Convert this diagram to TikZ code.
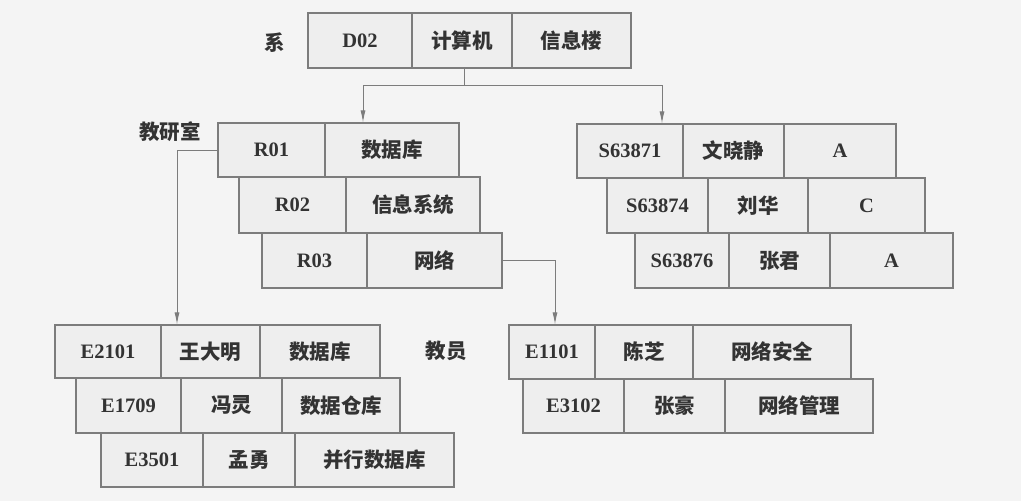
\documentclass[tikz,border=0pt]{standalone}
\usepackage{fontspec}
\setmainfont{Liberation Serif}
\newfontfamily\cjk{Noto Sans CJK SC}
\usetikzlibrary{arrows.meta}
\definecolor{bgc}{HTML}{F4F4F4}
\definecolor{cellc}{HTML}{EEEEEE}
\definecolor{linec}{HTML}{7C7C7C}
\definecolor{textc}{HTML}{333333}
\tikzset{
  cell/.style={draw=linec, fill=cellc, line width=1.1pt, inner sep=0pt, text=textc, font=\fontsize{20.5}{22}\selectfont\bfseries},
  lbl/.style={inner sep=0pt, text=textc, font=\fontsize{20.5}{22}\selectfont\cjk\bfseries},
  conn/.style={draw=linec, line width=0.9pt},
  arr/.style={conn, -{Latex[length=12pt,width=5pt]}}
}
\newcommand\cel[6]{\node[cell, minimum width={#3-#2}, minimum height={#5-#4}] (#1) at ({(#2+#3)/2},{-(#4+#5)/2}) {#6};}
\newcommand\zh[1]{{\fontsize{20.5}{22}\selectfont\cjk\bfseries #1}}
\begin{document}
\begin{tikzpicture}[x=1pt,y=1pt]
\fill[bgc] (0,0) rectangle (1021,-501);
\useasboundingbox (0,0) rectangle (1021,-501);
% department
\node[lbl] (lx) at (275,-43) {系};
\cel{d1}{308}{412}{13}{68}{D02}
\cel{d2}{412}{512}{13}{68}{\zh{计算机}}
\cel{d3}{512}{631}{13}{68}{\zh{信息楼}}
% research offices
\node[lbl] (ly) at (170,-132) {教研室};
\cel{r1a}{218}{325}{123}{177}{R01}
\cel{r1b}{325}{459}{123}{177}{\zh{数据库}}
\cel{r2a}{239}{346}{177}{233}{R02}
\cel{r2b}{346}{480}{177}{233}{\zh{信息系统}}
\cel{r3a}{262}{367}{233}{288}{R03}
\cel{r3b}{367}{502}{233}{288}{\zh{网络}}
% students
\cel{s1a}{577}{683}{124}{178}{S63871}
\cel{s1b}{683}{784}{124}{178}{\zh{文晓静}}
\cel{s1c}{784}{896}{124}{178}{A}
\cel{s2a}{607}{708}{178}{233}{S63874}
\cel{s2b}{708}{808}{178}{233}{\zh{刘华}}
\cel{s2c}{808}{925}{178}{233}{C}
\cel{s3a}{635}{729}{233}{288}{S63876}
\cel{s3b}{729}{830}{233}{288}{\zh{张君}}
\cel{s3c}{830}{953}{233}{288}{A}
% teachers (left)
\cel{e1a}{55}{161}{325}{378}{E2101}
\cel{e1b}{161}{260}{325}{378}{\zh{王大明}}
\cel{e1c}{260}{380}{325}{378}{\zh{数据库}}
\cel{e2a}{76}{181}{378}{433}{E1709}
\cel{e2b}{181}{282}{378}{433}{\zh{冯灵}}
\cel{e2c}{282}{400}{378}{433}{\zh{数据仓库}}
\cel{e3a}{101}{203}{433}{487}{E3501}
\cel{e3b}{203}{295}{433}{487}{\zh{孟勇}}
\cel{e3c}{295}{454}{433}{487}{\zh{并行数据库}}
\node[lbl] (lz) at (446,-351) {教员};
% teachers (right)
\cel{t1a}{509}{595}{325}{379}{E1101}
\cel{t1b}{595}{693}{325}{379}{\zh{陈芝}}
\cel{t1c}{693}{851}{325}{379}{\zh{网络安全}}
\cel{t2a}{523}{624}{379}{433}{E3102}
\cel{t2b}{624}{725}{379}{433}{\zh{张豪}}
\cel{t2c}{725}{873}{379}{433}{\zh{网络管理}}
% connectors
\coordinate (j) at (464,-85);
\coordinate (ja) at (363,-85);
\coordinate (jb) at (662,-85);
\coordinate (kl) at (177,-150);
\coordinate (kr) at (555,-260);
\draw[conn] (d2.south -| j) -- (j);
\draw[arr] (j) -- (ja) -- (ja |- r1b.north);
\draw[arr] (j) -- (jb) -- (jb |- s1a.north);
\draw[arr] (r1a.west) -| (kl |- e1b.north);
\draw[arr] (r3b.east) -| (kr |- t1a.north);
\end{tikzpicture}
\end{document}
